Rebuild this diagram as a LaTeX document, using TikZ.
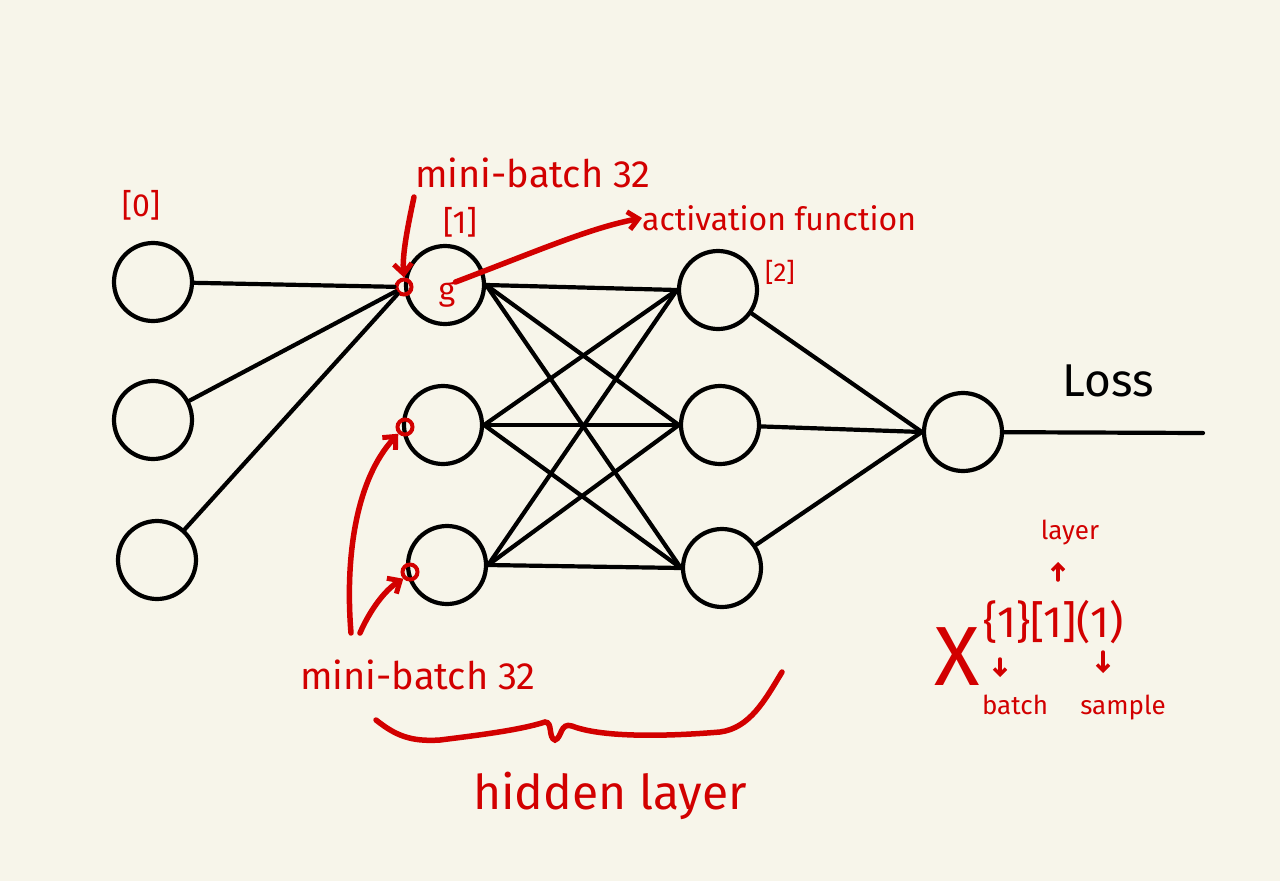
\documentclass[tikz,border=0pt]{standalone}
\usepackage{fontspec}
\setmainfont{Fira Sans}
\usetikzlibrary{arrows.meta}
\definecolor{paper}{HTML}{F7F5EA}
\definecolor{ink}{HTML}{D20000}

\begin{document}
\begin{tikzpicture}[x=1pt,y=-1pt,
  neuron/.style={draw,circle,line width=4.2pt,minimum size=78pt,inner sep=0pt},
  wire/.style={line width=4.2pt,line cap=round},
  dot/.style={draw=ink,circle,line width=4pt,minimum size=15pt,inner sep=0pt},
  redline/.style={draw=ink,line width=5.5pt,line cap=round},
  redarrow/.style={redline,-{Straight Barb[length=10pt,width=18pt,line width=5pt]}},
  minarrow/.style={redline,line width=3.5pt,-{Straight Barb[length=6pt,width=12pt,line width=3.5pt]}},
  note/.style={text=ink,inner sep=0pt,font=\fontsize{38}{44}\selectfont},
  tag/.style={text=ink,inner sep=0pt,font=\fontsize{32}{36}\selectfont},
  small/.style={text=ink,inner sep=0pt,font=\fontsize{26}{30}\selectfont}
]
\useasboundingbox[fill=paper] (0,0) rectangle (1280,881);

\node[neuron] (x1) at (153,282) {};
\node[neuron] (x2) at (153,420) {};
\node[neuron] (x3) at (157,560) {};
\node[neuron] (h1) at (445,285) {};
\node[neuron] (h2) at (443,425) {};
\node[neuron] (h3) at (447,565) {};
\node[neuron] (k1) at (718,290) {};
\node[neuron] (k2) at (720,425) {};
\node[neuron] (k3) at (722,568) {};
\node[neuron] (out) at (963,432) {};
\coordinate (lossend) at (1203,433);
\node[inner sep=0pt,font=\fontsize{46}{52}\selectfont] (loss) at (1108,381) {Loss};

\node[dot] (d1) at (404,287) {};
\node[dot] (d2) at (405,427) {};
\node[dot] (d3) at (410,572) {};

\draw[wire] (x1) -- (d1);
\draw[wire] (x2) -- (d1);
\draw[wire] (x3) -- (d1);
\foreach \a in {1,2,3}
  \foreach \b in {1,2,3}
    \draw[wire] (h\a.east) -- (k\b.west);
\foreach \b in {1,2,3}
  \draw[wire] (k\b) -- (out.west);
\draw[wire] (out) -- (lossend);

\node[tag] (l0) at (141,205) {[0]};
\node[tag] (l1) at (460,222) {[1]};
\node[tag,font=\fontsize{26}{30}\selectfont] (l2) at (780,272) {[2]};
\node[note] (mbtop) at (533,173) {mini-batch 32};
\node[note,font=\fontsize{32}{38}\selectfont,anchor=west] (act) at (642,218) {activation function};
\node[note,font=\fontsize{32}{36}\selectfont] (g) at (447,295) {g};
\node[note] (mbbot) at (418,675) {mini-batch 32};
\node[note,font=\fontsize{48}{54}\selectfont] (hid) at (610,796) {hidden layer};

\coordinate (mbtail) at (414,197);
\coordinate (bt1) at (351,633);
\coordinate (bt2) at (360,633);
\draw[redarrow] (mbtail) .. controls (408,225) and (402,255) .. (d1.north);
\draw[redarrow] (g.north east) .. controls (540,250) and (590,228) .. (act.west);
\draw[redarrow] (bt1) .. controls (345,560) and (355,480) .. (d2.south west);
\draw[redarrow] (bt2) .. controls (370,610) and (385,590) .. (d3.south west);

\draw[redline] (376,720) .. controls (395,735) and (410,742) .. (440,740)
  .. controls (480,735) and (520,730) .. (545,722)
  .. controls (553,722) and (548,738) .. (555,740)
  .. controls (562,738) and (560,722) .. (572,726)
  .. controls (600,737) and (660,737) .. (720,732)
  .. controls (750,728) and (765,700) .. (782,672);

\node[note,font=\fontsize{84}{90}\selectfont] (xvar) at (957,657) {X};
\node[note,font=\fontsize{44}{50}\selectfont,anchor=west] (idx) at (983,622) {\{1\}[1](1)};
\node[small] (layer) at (1070,533) {layer};
\node[small] (batch) at (1015,705) {batch};
\node[small] (sample) at (1123,708) {sample};
\coordinate (upfoot) at (1058,580);
\coordinate (uptip) at (1058,562);
\coordinate (bfoot) at (1000,659);
\coordinate (btip) at (1000,677);
\coordinate (sfoot) at (1103,652);
\coordinate (stip) at (1103,673);
\draw[minarrow] (upfoot) -- (uptip);
\draw[minarrow] (bfoot) -- (btip);
\draw[minarrow] (sfoot) -- (stip);
\end{tikzpicture}
\end{document}
